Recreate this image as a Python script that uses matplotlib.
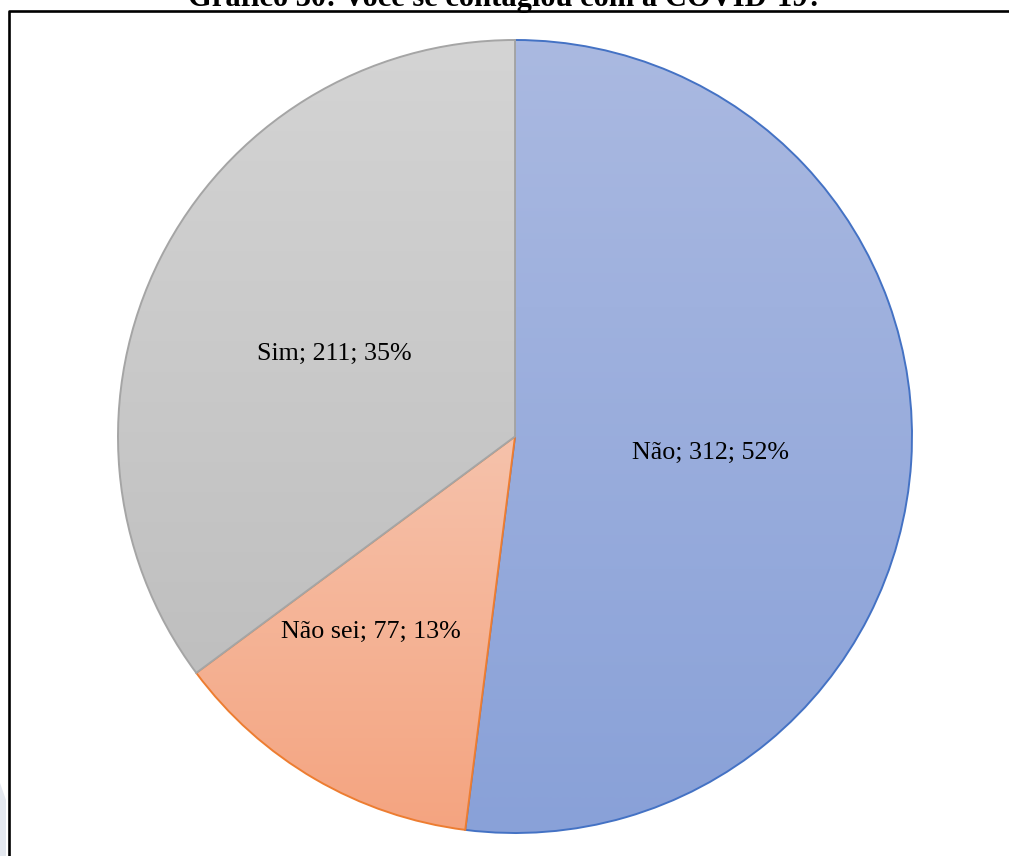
import numpy as np
import matplotlib
matplotlib.use("Agg")
import matplotlib.pyplot as plt
from matplotlib.colors import LinearSegmentedColormap
from matplotlib.lines import Line2D
from matplotlib.patches import Polygon

# --- data ---
categories = ["Não", "Não sei", "Sim"]
counts = [312, 77, 211]
title = "Gráfico 30: Você se contagiou com a COVID-19?"

# --- style ---
top_colors = ["#AAB9E1", "#F6C2AB", "#D4D4D4"]
bottom_colors = ["#89A1D8", "#F4A480", "#BFBFBF"]
edge_colors = ["#4472C4", "#ED7D31", "#A5A5A5"]
# label baseline anchors, in pie radius units
label_anchors = [(0.492, -0.0555), (-0.363, -0.507), (-0.454, 0.192)]

W, H = 1009, 856
fig = plt.figure(figsize=(W / 100, H / 100), dpi=100)
fig.patch.set_facecolor("white")

# pie occupies x 118..912, y 40..833 (pixels from the top)
ax = fig.add_axes([118 / W, (H - 833) / H, 794 / W, 793 / H])
wedges, _ = ax.pie(counts, startangle=90, counterclock=False, radius=1.0,
                   colors=["none"] * len(counts),
                   wedgeprops=dict(linewidth=1.4))
ax.set_aspect("equal")
ax.axis("off")

grad = np.linspace(0, 1, 256).reshape(-1, 1)
for i, w in enumerate(wedges):
    ext = w.get_path().get_extents()
    cmap = LinearSegmentedColormap.from_list(f"g{i}", [top_colors[i], bottom_colors[i]])
    im = ax.imshow(grad, cmap=cmap, aspect="auto", origin="upper",
                   extent=(ext.x0, ext.x1, ext.y0, ext.y1),
                   zorder=2 * i + 1, interpolation="bilinear")
    im.set_clip_path(w)
    w.set_facecolor("none")
    w.set_edgecolor(edge_colors[i])
    w.set_zorder(2 * i + 2)
    w.set_clip_on(False)

ax.set_xlim(-1, 1)
ax.set_ylim(-1, 1)

total = sum(counts)
for cat, val, (lx, ly) in zip(categories, counts, label_anchors):
    pct = round(val / total * 100)
    ax.text(lx, ly, f"{cat}; {val}; {pct}%", ha="center", va="baseline",
            family="Liberation Serif", fontsize=18.7, color="black", zorder=10)

# title and frame
fig.text(505 / W, 1 - 6 / H, title, ha="center", va="baseline",
         family="Liberation Serif", fontweight="bold", fontsize=22)
fig.add_artist(Line2D([8.5 / W, 8.5 / W, 1.01], [-0.01, 1 - 11 / H, 1 - 11 / H],
                      transform=fig.transFigure, color="black", linewidth=1.9))
fig.add_artist(Polygon([(0, 1 - 783 / H), (6 / W, 1 - 800 / H), (6 / W, 0), (0, 0)],
                       closed=True, transform=fig.transFigure,
                       facecolor="#E4E8EF", edgecolor="none"))

fig.savefig("out.png", dpi=100, facecolor="white")
